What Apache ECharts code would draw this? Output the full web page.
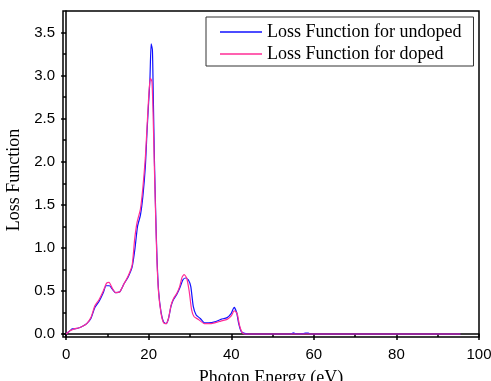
<!DOCTYPE html>
<html lang="en" style="height: 100%">
<head>
  <meta charset="utf-8">
  <title>Loss Function</title>
</head>
<body style="height: 100%; margin: 0; background: #fff">
  <div id="container" style="width: 491px; height: 381px"></div>
  <script type="text/javascript" src="https://cdn.jsdelivr.net/npm/echarts@6/dist/echarts.min.js"></script>
  <script type="text/javascript">
    // photon energy (eV) and loss function values
    var energyUndoped = [0, 0.5, 1, 1.5, 2, 3, 4, 5, 6, 7, 8, 9, 9.7, 10.5, 11.2, 12, 13, 14, 15, 16, 16.7, 17.3, 18, 18.6, 19.2, 19.6, 20, 20.3, 20.6, 20.9, 21.1, 21.4, 21.7, 22, 22.4, 23, 23.6, 24.2, 24.8, 25.4, 26, 26.8, 27.5, 28.3, 28.9, 29.6, 30.2, 30.8, 31.5, 32.5, 33.5, 34.5, 36, 37.5, 39, 40, 40.7, 41.3, 41.8, 42.4, 43, 44, 50, 54.5, 55, 55.5, 56, 57.5, 58, 58.7, 59, 70, 80, 95.5];
    var lossUndoped = [0, 0.02, 0.04, 0.06, 0.06, 0.07, 0.09, 0.12, 0.18, 0.31, 0.38, 0.48, 0.56, 0.56, 0.52, 0.48, 0.49, 0.58, 0.66, 0.78, 1.0, 1.25, 1.38, 1.6, 1.95, 2.35, 2.7, 2.95, 3.37, 3.3, 2.8, 2.0, 1.4, 0.9, 0.5, 0.25, 0.14, 0.12, 0.18, 0.32, 0.40, 0.46, 0.53, 0.63, 0.65, 0.63, 0.55, 0.32, 0.22, 0.18, 0.13, 0.13, 0.14, 0.17, 0.19, 0.24, 0.31, 0.25, 0.12, 0.03, 0.01, 0, 0, 0, 0.012, 0.005, 0, 0.005, 0.01, 0.01, 0, 0, 0, 0];

    var energyDoped = [0, 0.5, 1, 1.5, 2, 3, 4, 5, 6, 7, 8, 9, 9.8, 10.4, 11.2, 12, 13, 14, 15, 16, 16.6, 17.2, 18, 18.6, 19.2, 19.6, 20, 20.4, 20.8, 21.1, 21.4, 21.7, 22, 22.4, 23, 23.6, 24.2, 24.8, 25.4, 26, 26.8, 27.5, 28.1, 28.6, 29.2, 29.8, 30.4, 31, 32, 33.5, 34.5, 36, 37.5, 39, 40, 40.7, 41.4, 42, 42.6, 43.2, 44, 95.5];
    var lossDoped = [0, 0.02, 0.04, 0.05, 0.06, 0.07, 0.09, 0.12, 0.19, 0.33, 0.40, 0.50, 0.59, 0.60, 0.53, 0.48, 0.49, 0.58, 0.67, 0.80, 1.1, 1.3, 1.45, 1.7, 2.05, 2.4, 2.75, 2.97, 2.93, 2.5, 1.9, 1.35, 0.85, 0.48, 0.24, 0.13, 0.12, 0.18, 0.33, 0.41, 0.47, 0.55, 0.66, 0.69, 0.65, 0.5, 0.28, 0.2, 0.17, 0.12, 0.12, 0.13, 0.15, 0.17, 0.21, 0.27, 0.24, 0.1, 0.02, 0, 0, 0];

    var xMajor = [0, 20, 40, 60, 80, 100];
    var xMinor = [10, 30, 50, 70, 90];
    var yMajor = [0, 0.5, 1, 1.5, 2, 2.5, 3, 3.5];
    var yMinor = [0.25, 0.75, 1.25, 1.75, 2.25, 2.75, 3.25];

    function pairs(xs, ys) {
      return xs.map(function (x, i) { return [x, ys[i]]; });
    }

    var dom = document.getElementById('container');
    var myChart = echarts.init(dom, null, { renderer: 'canvas' });

    var tickFont = { color: '#000', fontFamily: 'Liberation Sans', fontSize: 15 };
    var serif = 'Liberation Serif';

    var option = {
      animation: false,
      backgroundColor: '#fff',
      grid: {
        left: 63, right: 12, top: 11, bottom: 44,
        outerBoundsMode: 'none', containLabel: false,
        show: true, borderColor: '#000', borderWidth: 1.5
      },
      legend: {
        orient: 'vertical',
        left: 206, top: 17,
        padding: [6, 12, 3, 14],
        borderColor: '#333', borderWidth: 1,
        icon: 'rect',
        itemWidth: 42, itemHeight: 1.3, itemGap: 4,
        textStyle: { fontFamily: serif, fontSize: 18, color: '#000' },
        data: ['Loss Function for undoped', 'Loss Function for doped']
      },
      xAxis: [
        {
          type: 'value', min: -0.75, max: 100,
          name: 'Photon Energy (eV)', nameLocation: 'middle', nameGap: 32,
          nameTextStyle: { fontFamily: serif, fontSize: 18, color: '#000' },
          axisLine: { lineStyle: { color: '#000', width: 1.5 } },
          axisTick: { customValues: xMajor, length: 6, lineStyle: { color: '#000', width: 1.5 } },
          axisLabel: Object.assign({ customValues: xMajor, margin: 10, formatter: function (v) { return String(v); } }, tickFont),
          splitLine: { show: false }
        },
        {
          type: 'value', min: -0.75, max: 100, position: 'bottom',
          axisLine: { show: false },
          axisTick: { customValues: xMinor, length: 3, lineStyle: { color: '#000', width: 1.5 } },
          axisLabel: { show: false },
          splitLine: { show: false }
        }
      ],
      yAxis: [
        {
          type: 'value', min: -0.035, max: 3.75,
          name: 'Loss Function', nameLocation: 'middle', nameGap: 33,
          nameTextStyle: { fontFamily: serif, fontSize: 18, color: '#000', padding: [0, 12, 0, 0] },
          axisLine: { lineStyle: { color: '#000', width: 1.5 } },
          axisTick: { customValues: yMajor, length: 5, lineStyle: { color: '#000', width: 1.5 } },
          axisLabel: Object.assign({ customValues: yMajor, margin: 8, formatter: function (v) { return v.toFixed(1); } }, tickFont),
          splitLine: { show: false }
        },
        {
          type: 'value', min: -0.035, max: 3.75, position: 'left',
          axisLine: { show: false },
          axisTick: { customValues: yMinor, length: 3, lineStyle: { color: '#000', width: 1.5 } },
          axisLabel: { show: false },
          splitLine: { show: false }
        }
      ],
      series: [
        {
          name: 'Loss Function for undoped',
          type: 'line', symbol: 'none', smooth: 0.2,
          xAxisIndex: 0, yAxisIndex: 0,
          lineStyle: { color: '#1010ff', width: 1.2 },
          itemStyle: { color: '#1010ff' },
          data: pairs(energyUndoped, lossUndoped)
        },
        {
          name: 'Loss Function for doped',
          type: 'line', symbol: 'none', smooth: 0.2,
          xAxisIndex: 0, yAxisIndex: 0,
          lineStyle: { color: '#ff2d96', width: 1.2 },
          itemStyle: { color: '#ff2d96' },
          data: pairs(energyDoped, lossDoped)
        }
      ]
    };

    myChart.setOption(option);
    window.addEventListener('resize', myChart.resize);
  </script>
</body>
</html>
